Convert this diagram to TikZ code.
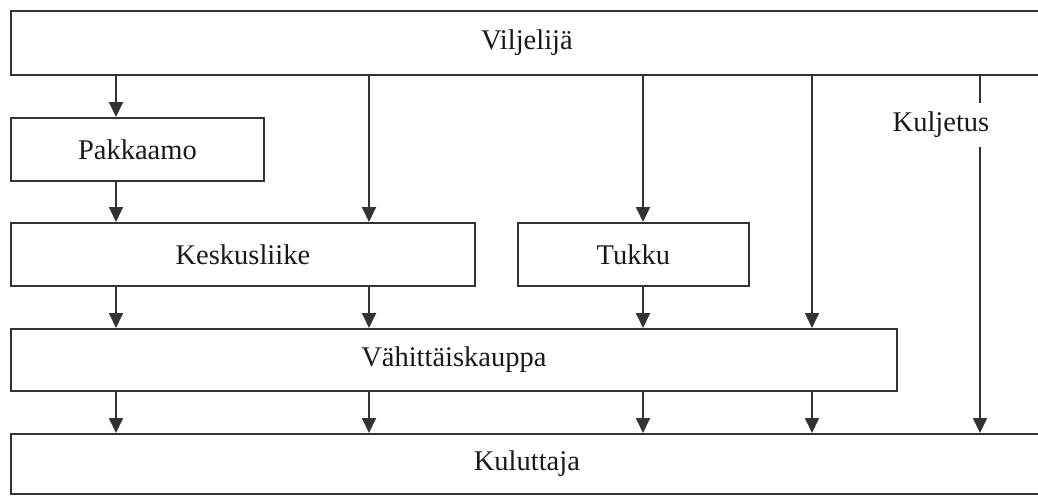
\documentclass[tikz,border=0pt]{standalone}
\usepackage{fontspec}
\setmainfont{Liberation Serif}
\usetikzlibrary{arrows.meta}
\definecolor{ink}{HTML}{333333}
\tikzset{
  label font/.style={font=\fontsize{28.5}{31}\selectfont, text=black!90},
  box/.style={draw=ink, line width=1.8pt, rectangle, inner sep=0pt, anchor=north west, label font},
  flow/.style={draw=ink, line width=1.8pt, -{Triangle[length=15pt,width=14pt]}},
  plain/.style={draw=ink, line width=1.8pt},
}
\begin{document}
\begin{tikzpicture}[x=1pt,y=-1pt]
\useasboundingbox (0,0) rectangle (1038,495);
\clip (0,0) rectangle (1038,495);
\fill[white] (0,0) rectangle (1038,495);

% boxes
\node[box, minimum width=1032pt, minimum height=64pt] (vil) at (10,10) {Viljelijä};
\node[box, minimum width=253pt, minimum height=63pt] (pak) at (10,117) {Pakkaamo};
\node[box, minimum width=464pt, minimum height=63pt] (kes) at (10,222) {Keskusliike};
\node[box, minimum width=231pt, minimum height=63pt] (tuk) at (517,222) {Tukku};
\node[box, minimum width=886pt, minimum height=62pt] (vah) at (10,328) {Vähittäiskauppa};
\node[box, minimum width=1032pt, minimum height=60pt] (kul) at (10,433) {Kuluttaja};

% transport label on the right-hand line
\node[label font, inner sep=0pt, minimum height=44pt] (kulj) at (941,125) {Kuljetus};

% column positions
\coordinate (c1) at (116,0);
\coordinate (c2) at (369,0);
\coordinate (c3) at (643,0);
\coordinate (c4) at (812,0);
\coordinate (c5) at (980,0);

% column 1
\draw[flow] (vil.south -| c1) -- (pak.north -| c1);
\draw[flow] (pak.south -| c1) -- (kes.north -| c1);
\draw[flow] (kes.south -| c1) -- (vah.north -| c1);
\draw[flow] (vah.south -| c1) -- (kul.north -| c1);
% column 2
\draw[flow] (vil.south -| c2) -- (kes.north -| c2);
\draw[flow] (kes.south -| c2) -- (vah.north -| c2);
\draw[flow] (vah.south -| c2) -- (kul.north -| c2);
% column 3
\draw[flow] (vil.south -| c3) -- (tuk.north -| c3);
\draw[flow] (tuk.south -| c3) -- (vah.north -| c3);
\draw[flow] (vah.south -| c3) -- (kul.north -| c3);
% column 4
\draw[flow] (vil.south -| c4) -- (vah.north -| c4);
\draw[flow] (vah.south -| c4) -- (kul.north -| c4);
% column 5, broken by the transport label
\draw[plain] (vil.south -| c5) -- (kulj.north -| c5);
\draw[flow] (kulj.south -| c5) -- (kul.north -| c5);
\end{tikzpicture}
\end{document}
